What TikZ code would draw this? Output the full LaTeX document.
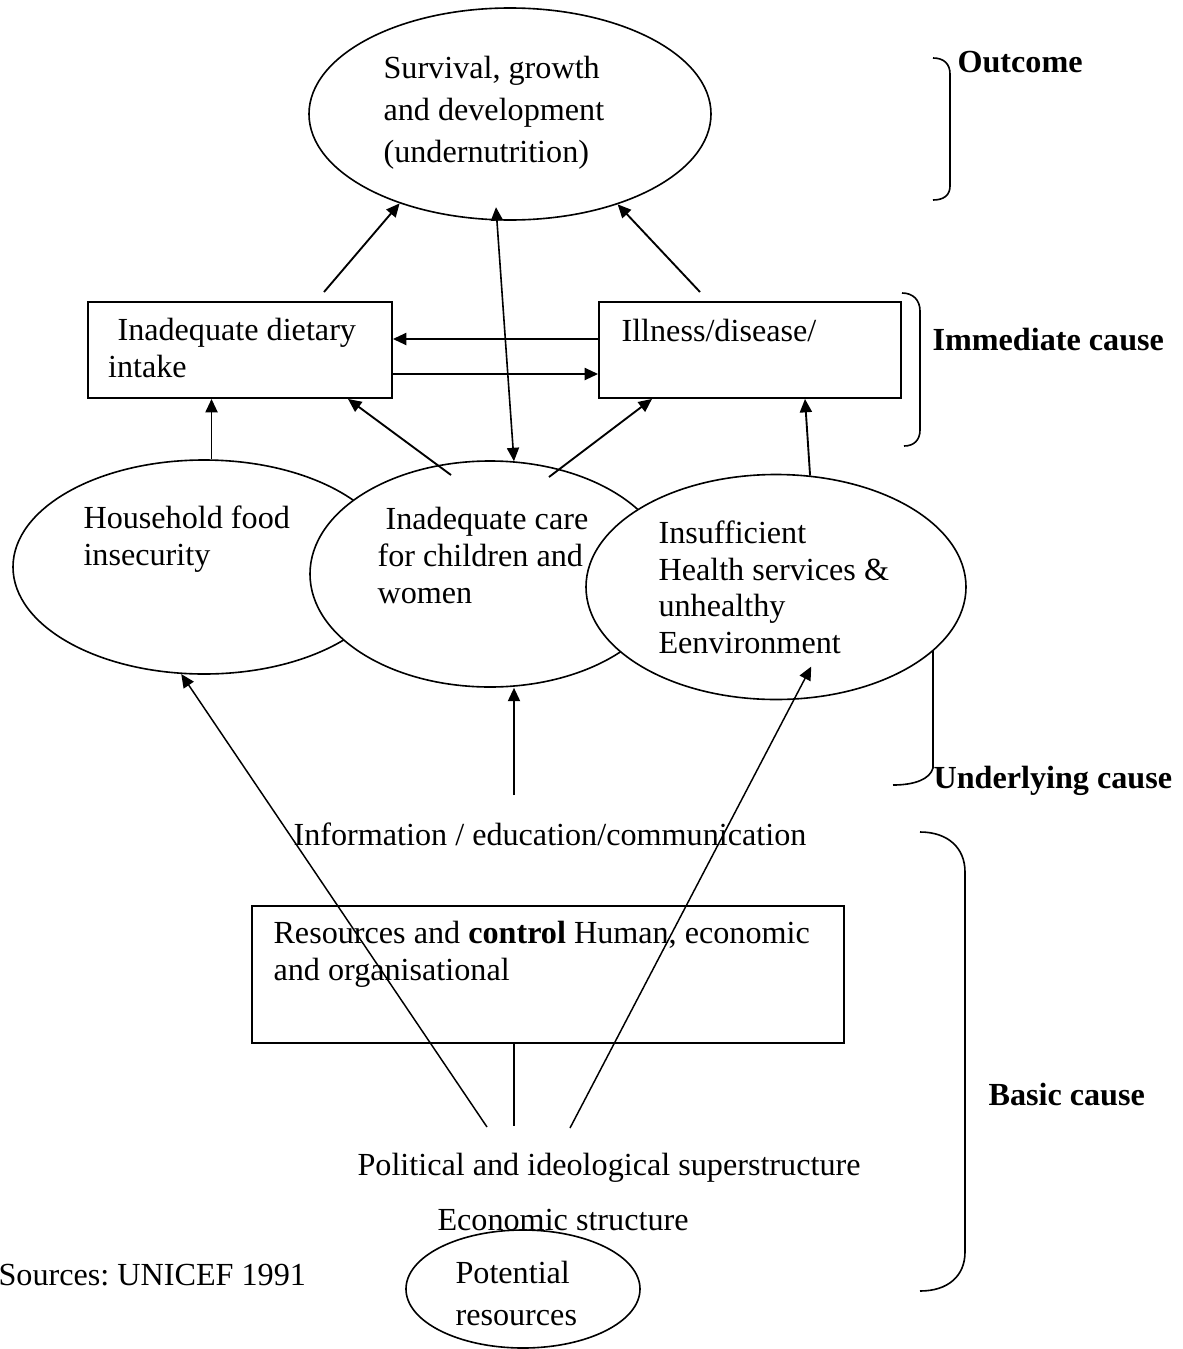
\documentclass[tikz,border=0pt]{standalone}
\usepackage{fontspec}
\setmainfont{Liberation Serif}
\usetikzlibrary{shapes.geometric, arrows.meta, positioning}
\newcommand{\px}{0.373pt}
\frenchspacing

\begin{document}
\begin{tikzpicture}[x=0.373pt, y=-0.373pt,
        txt/.style={font=\fontsize{12pt}{13.8pt}\selectfont, inner sep=0pt, anchor=base west, align=left},
        wide/.style={txt, font=\fontsize{12pt}{15.6pt}\selectfont},
        lbl/.style={txt, font=\fontsize{12pt}{13.8pt}\selectfont\bfseries},
        oval/.style={draw, ellipse, inner sep=0pt, line width=0.6pt},
        box/.style={draw, rectangle, inner sep=0pt, line width=0.7pt},
        arrow/.style={-{Triangle[length=5pt,width=4.5pt]}, line width=0.7pt},
        dbl/.style={{Triangle[length=5pt,width=4.5pt]}-{Triangle[length=5pt,width=4.5pt]}, line width=0.6pt},
        link/.style={-{Triangle[length=5pt,width=4.5pt]}, line width=0.55pt},
        brace/.style={line width=0.6pt}]

    \useasboundingbox (0,0) rectangle (1183,1349);

    % Braces on the right
    \draw[brace] (933,58) .. controls (944,58) and (950,64) .. (950,74)
        -- (950,186) .. controls (950,195) and (944,200) .. (933,200);
    \draw[brace] (902,293) .. controls (913,293) and (920,300) .. (920,311)
        -- (920,430) .. controls (920,440) and (914,446) .. (904,446);
    \draw[brace] (933,600) -- (933,768) .. controls (930,779) and (915,785) .. (893,785);
    \draw[brace] (920,832) .. controls (948,832) and (965,848) .. (965,872)
        -- (965,1252) .. controls (965,1276) and (948,1291) .. (920,1291);

    % Outcome (multi-line texts sit on their last baseline)
    \node[oval, minimum width=402*\px, minimum height=212*\px] (top) at (510,114) {};
    \node[wide] (toptxt) at (383,162) {Survival, growth\\and development\\(undernutrition)};

    % Immediate causes
    \node[box, minimum width=304*\px, minimum height=96*\px] (diet) at (240,350) {};
    \node[txt] (diettxt) at (117,377) {Inadequate dietary\\\hspace*{-3.5pt}intake};
    \node[box, minimum width=302*\px, minimum height=96*\px] (ill) at (750,350) {};
    \node[txt] (illtxt) at (621,341) {Illness/disease/};

    % Underlying causes
    \node[oval, fill=white, minimum width=382*\px, minimum height=214*\px] (hh) at (204,567) {};
    \node[txt] (hhtxt) at (83,565) {Household food\\insecurity};
    \node[oval, fill=white, minimum width=360*\px, minimum height=226*\px] (care) at (490,574) {};
    \node[txt] (caretxt) at (377,603) {\hspace*{3pt}Inadequate care\\for children and\\women};
    \node[oval, fill=white, minimum width=380*\px, minimum height=225*\px] (ins) at (776,587) {};
    \node[txt, font=\fontsize{12pt}{13.6pt}\selectfont] (instxt) at (658,653)
        {Insufficient\\Health services \&\\unhealthy\\Eenvironment};

    % Basic causes
    \node[txt] (info) at (293,845) {Information / education/communication};
    \node[box, minimum width=592*\px, minimum height=137*\px] (res) at (548,974.5) {};
    \node[txt] (restxt) at (273,980) {Resources and \textbf{control} Human, economic\\and organisational};
    \node[txt] (pol) at (357,1175) {Political and ideological superstructure};
    \node[txt] (eco) at (437,1230) {Economic structure};
    \node[oval, minimum width=234*\px, minimum height=118*\px] (pot) at (523,1289) {};
    \node[wide] (pottxt) at (455,1325) {Potential\\resources};
    \node[txt] (src) at (-2,1285) {Sources: UNICEF 1991};

    % Level labels
    \node[lbl] (lout) at (957,72) {Outcome};
    \node[lbl] (limm) at (932,350) {Immediate cause};
    \node[lbl] (lund) at (933,788) {Underlying cause};
    \node[lbl] (lbas) at (988,1105) {Basic cause};

    % Connectors
    \coordinate (dtail) at (324,292);
    \coordinate (itail) at (700,292);
    \coordinate (cl) at (451,475);
    \coordinate (cr) at (549,477);
    \coordinate (itop) at (514,795);
    \coordinate (pl) at (487,1127);
    \coordinate (pm) at (514,1126);
    \coordinate (pr) at (570,1128);

    \draw[arrow] (dtail) -- (top.219);
    \draw[arrow] (itail) -- (top.320);
    \draw[dbl, shorten >=-5pt] (care.78) -- (top.263);
    \draw[arrow] (ill.west |- 0,339) -- (diet.east |- 0,339);
    \draw[arrow] (diet.east |- 0,374) -- (ill.west |- 0,374);
    \draw[arrow] (hh.86) -- (hh.86 |- diet.south);
    \draw[arrow] (cl) -- (diet.south -| 348,0);
    \draw[arrow] (cr) -- (ill.south -| 652,0);
    \draw[arrow] (ins.73) -- (ill.south -| 805,0);
    \draw[arrow] (itop) -- (itop |- care.south);
    \draw[line width=0.55pt] (res.south -| pm) -- (pm);
    \draw[link] (pl) -- (hh.258);
    \draw[link, shorten >=-14pt] (pr) -- (ins.279);
\end{tikzpicture}
\end{document}
